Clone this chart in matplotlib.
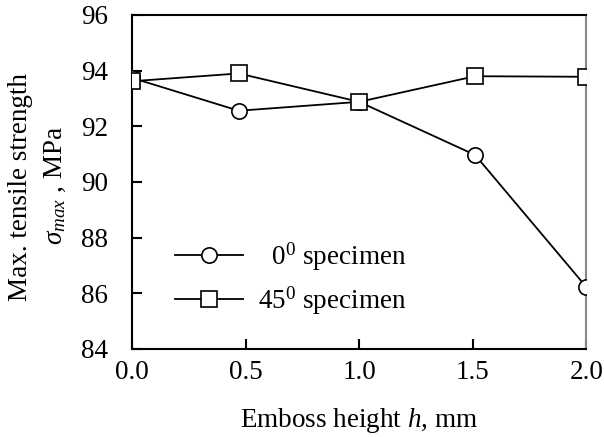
import matplotlib
matplotlib.use("Agg")
import matplotlib.pyplot as plt

plt.rcParams["font.family"] = ["Liberation Serif", "DejaVu Serif"]
plt.rcParams["mathtext.fontset"] = "custom"
plt.rcParams["mathtext.rm"] = "Liberation Serif"
plt.rcParams["mathtext.it"] = "Liberation Serif:italic"

# ---- data ----
emboss_h = [0.0, 0.47, 1.0, 1.51, 2.0]
strength_0 = [93.74, 92.56, 92.88, 90.97, 86.22]
strength_45 = [93.62, 93.90, 92.88, 93.80, 93.78]
x_ticks = [0.0, 0.5, 1.0, 1.5, 2.0]
y_ticks = [84, 86, 88, 90, 92, 94, 96]

FS = 19.5

fig = plt.figure(figsize=(6.04, 4.37), dpi=100)
ax = fig.add_axes([0.2185, 0.2014, 0.7525, 0.7643])

ax.plot(emboss_h, strength_0, "-o", color="black", lw=1.3,
        marker="o", ms=11, mfc="white", mec="black", mew=1.2,
        label=r"  0$^0$ specimen", zorder=3)
ax.plot(emboss_h, strength_45, "-s", color="black", lw=1.3,
        marker="s", ms=11.5, mfc="white", mec="black", mew=1.2,
        label=r"45$^0$ specimen", zorder=4)

ax.set_xlim(0, 2.0)
ax.set_ylim(84, 96)
ax.set_xticks(x_ticks)
ax.set_xticklabels([f"{v:.1f}" for v in x_ticks], fontsize=FS)
ax.set_yticks(y_ticks)
ax.set_yticklabels([str(v) for v in y_ticks], fontsize=FS)
ax.tick_params(axis="both", direction="in", length=7, width=1.5)
ax.tick_params(axis="y", pad=17)
ax.tick_params(axis="x", pad=8)

for s in ["left", "bottom", "top"]:
    ax.spines[s].set_linewidth(1.5)
    ax.spines[s].set_color("black")
ax.spines["right"].set_color("#888888")
ax.spines["right"].set_linewidth(1.5)

ax.set_xlabel(r"Emboss height $h$, mm", fontsize=FS, labelpad=15)

fig.text(21 / 604, 1 - 187 / 437, "Max. tensile strength", rotation=90,
         fontsize=FS, ha="center", va="center")
fig.text(55 / 604, 1 - 185 / 437, r"$\sigma_{max}$ , MPa", rotation=90,
         fontsize=FS, ha="center", va="center")

ax.legend(loc="upper left", bbox_to_anchor=(0.0945, 0.325), frameon=False,
          fontsize=FS, numpoints=1, handlelength=2.5, handletextpad=0.55,
          labelspacing=0.43, borderpad=0, borderaxespad=0)

fig.savefig("out.png", dpi=100)
